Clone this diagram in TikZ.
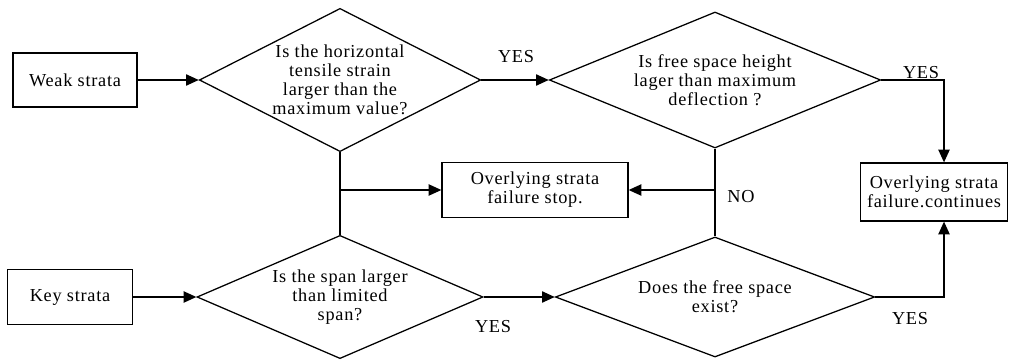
\documentclass[tikz,border=0pt]{standalone}
\usepackage{fontspec}
\setmainfont{Liberation Serif}[LetterSpace=4]
\usetikzlibrary{shapes.geometric,arrows.meta}
\begin{document}
\begin{tikzpicture}[x=0.025cm,y=-0.025cm,>={Triangle[length=9pt,width=8pt]},line width=0.9pt,
  font=\fontsize{13}{13.5}\selectfont, line join=miter,
  box/.style={draw,rectangle,inner sep=0pt,align=center},
  test/.style={draw,diamond,inner sep=0pt,align=center,shape aspect=#1},
  lab/.style={inner sep=0pt}]
\useasboundingbox (0,0) rectangle (1016,360);
% inputs
\node[box,minimum width=3.1cm,minimum height=1.35cm] (weak) at (75,80) {Weak strata};
\node[box,minimum width=3.12cm,minimum height=1.38cm] (key) at (70,297) {Key strata};
% tests
\node[test=1.97,minimum width=7.03cm,minimum height=3.58cm] (strain) at (340,80)
  {Is the horizontal\\tensile strain\\larger than the\\maximum value?};
\node[test=2.43,minimum width=8.28cm,minimum height=3.4cm] (height) at (715,80)
  {Is free space height\\lager than maximum\\deflection ?};
\node[test=2.33,minimum width=7.15cm,minimum height=3.08cm] (span) at (340,297)
  {Is the span larger\\than limited\\span?};
\node[test=2.66,minimum width=7.98cm,minimum height=3cm] (space) at (715,297)
  {Does the free space\\exist?};
% results
\node[box,minimum width=4.65cm,minimum height=1.38cm] (stop) at (535,190)
  {Overlying strata\\failure stop.};
\node[box,minimum width=3.68cm,minimum height=1.45cm] (cont) at (934,192)
  {Overlying strata\\failure.continues};
% connectors
\draw[->] (weak) -- (strain.west);
\draw[->] (key) -- (span.west);
\draw[->] (strain.east) -- (height.west);
\draw[->] (span.east) -- (space.west);
\draw[->] (height.east) -| ([xshift=0.25cm]cont.north);
\draw[->] (space.east) -| ([xshift=0.25cm]cont.south);
\draw (strain.south) -- (span.north);
\draw (height.south) -- (space.north);
\draw[->] (strain.south |- stop.west) -- (stop.west);
\draw[->] (height.south |- stop.east) -- (stop.east);
% labels
\node[lab] (y1) at (516,57) {YES};
\node[lab] (y2) at (921,73) {YES};
\node[lab] (y3) at (493,327) {YES};
\node[lab] (y4) at (910,319) {YES};
\node[lab] (no) at (741,197) {NO};
\end{tikzpicture}
\end{document}
